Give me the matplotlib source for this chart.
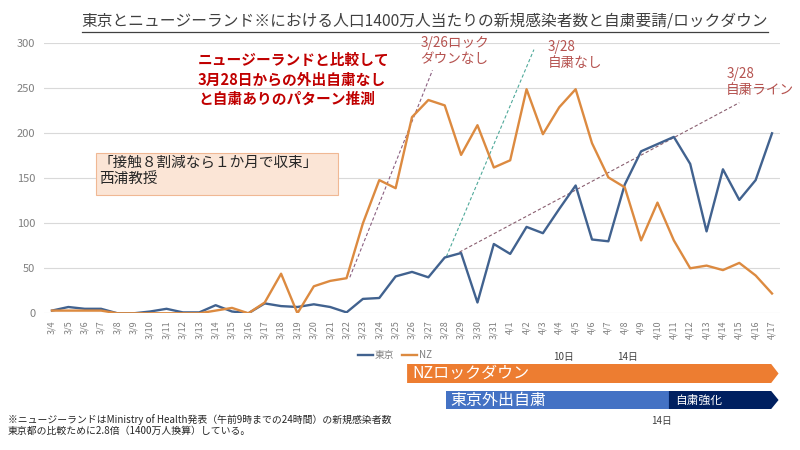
import matplotlib.pyplot as plt
import matplotlib.transforms as mtransforms
from matplotlib.patches import Polygon, Rectangle
from matplotlib.lines import Line2D

plt.rcParams['font.family'] = ['Noto Sans CJK JP', 'DejaVu Sans']

# --- données ---
dates = ["3/4", "3/5", "3/6", "3/7", "3/8", "3/9", "3/10", "3/11", "3/12", "3/13",
         "3/14", "3/15", "3/16", "3/17", "3/18", "3/19", "3/20", "3/21", "3/22", "3/23",
         "3/24", "3/25", "3/26", "3/27", "3/28", "3/29", "3/30", "3/31", "4/1", "4/2",
         "4/3", "4/4", "4/5", "4/6", "4/7", "4/8", "4/9", "4/10", "4/11", "4/12",
         "4/13", "4/14", "4/15", "4/16", "4/17"]
tokyo = [3, 7, 5, 5, 0, 0, 2, 5, 1, 1, 9, 2, 0, 11, 8, 7, 10, 7, 1, 16,
         17, 41, 46, 40, 62, 67, 12, 77, 66, 96, 89, 116, 142, 82, 80, 143, 180, 188, 196, 166,
         91, 160, 126, 148, 200]
nz = [3, 3, 3, 3, 0, 0, 0, 0, 0, 0, 3, 6, 0, 12, 44, 0, 30, 36, 39, 100,
      148, 139, 218, 237, 231, 176, 209, 162, 170, 249, 199, 229, 249, 189, 151, 140, 81, 123, 81, 50,
      53, 48, 56, 42, 22]

# lignes de tendance en pointillés (x = indice du jour, y = valeur)
trend_lockdown_x, trend_lockdown_y = [18.2, 23.25], [40, 270]
trend_nojishuku_x, trend_nojishuku_y = [24.1, 29.45], [63, 293]
trend_jishuku_x, trend_jishuku_y = [24.9, 42.0], [68, 234]

# bandes de périodes (début, fin en indice de jour)
nz_lockdown = (21.7, 44.4)
tokyo_jishuku = (24.1, 37.7)
tokyo_kyoka = (37.7, 44.4)

c_tokyo = "#41628f"
c_nz = "#dc8a40"
c_note = "#b5524f"
c_gray = "#7f7f7f"

W, H = 800, 450
fig = plt.figure(figsize=(8, 4.5), dpi=100)


def fx(x):
    return x / W


def fy(y):
    return 1 - y / H


ax = fig.add_axes([fx(43.8), fy(313.3), fx(780.2 - 43.8), 270 / H])
x = list(range(len(dates)))
ax.plot(x, tokyo, color=c_tokyo, lw=1.7, label="東京", zorder=3)
ax.plot(x, nz, color=c_nz, lw=1.7, label="NZ", zorder=3)

ax.plot(trend_lockdown_x, trend_lockdown_y, color="#8a5f80", lw=0.8, ls=(0, (3, 2)), clip_on=False)
ax.plot(trend_nojishuku_x, trend_nojishuku_y, color="#4fa99a", lw=0.8, ls=(0, (3, 2)), clip_on=False)
ax.plot(trend_jishuku_x, trend_jishuku_y, color="#8a5f70", lw=0.8, ls=(0, (3, 2)), clip_on=False)

ax.set_xlim(-0.5, len(dates) - 0.5)
ax.set_ylim(0, 300)
ax.set_yticks(range(0, 301, 50))
ax.set_xticks(x)
ax.set_xticklabels(dates, rotation=90, fontsize=6.5, color=c_gray)
ax.tick_params(axis="y", labelsize=8, colors=c_gray, length=0, pad=6)
ax.tick_params(axis="x", length=0, pad=5)
ax.grid(axis="y", color="#d9d9d9", lw=0.8)
ax.set_axisbelow(True)
for s in ax.spines.values():
    s.set_visible(False)

# annotations des lignes
ax.text(22.5, 308, "3/26ロック\nダウンなし", color=c_note, fontsize=9.8, va="top", ha="left",
        linespacing=1.2, clip_on=False)
ax.text(30.3, 304, "3/28\n自粛なし", color=c_note, fontsize=9.8, va="top", ha="left",
        linespacing=1.2, clip_on=False)
ax.text(41.2, 274, "3/28\n自粛ライン", color=c_note, fontsize=9.8, va="top", ha="left",
        linespacing=1.2, clip_on=False)

# titre souligné
t = fig.text(fx(425), fy(21), "東京とニュージーランド※における人口1400万人当たりの新規感染者数と自粛要請/ロックダウン",
             ha="center", va="center", fontsize=11.3, color="#404040")
fig.canvas.draw()
bb = t.get_window_extent().transformed(fig.transFigure.inverted())
fig.add_artist(Line2D([bb.x0, bb.x1], [bb.y0 - 0.005, bb.y0 - 0.005], color="#404040", lw=0.9))

# texte rouge
fig.text(fx(198), fy(52), "ニュージーランドと比較して\n3月28日からの外出自粛なし\nと自粛ありのパターン推測",
         color="#c00000", fontsize=10.6, fontweight="bold", va="top", ha="left", linespacing=1.25)

# encadré
fig.add_artist(Rectangle((fx(96), fy(195)), fx(338 - 96), (195 - 153) / H,
                         facecolor="#fbe5d6", edgecolor="#f0b894", lw=0.8, transform=fig.transFigure))
fig.text(fx(99), fy(156), "「接触８割減なら１か月で収束」\n西浦教授", fontsize=10.5, color="#262626",
         va="top", ha="left", linespacing=1.2)

# légende
fig.legend(loc="center", bbox_to_anchor=(fx(395), fy(355)), ncol=2, frameon=False,
           fontsize=7, handlelength=1.5, handletextpad=0.2, columnspacing=0.8, labelcolor=c_gray)

# bandes de périodes
trans = mtransforms.blended_transform_factory(ax.transData, fig.transFigure)
tip = 0.45


def band(x0, x1, ytop, ybot, color, arrow=True):
    yt, yb = fy(ytop), fy(ybot)
    ym = (yt + yb) / 2
    if arrow:
        pts = [(x0, yb), (x1 - tip, yb), (x1, ym), (x1 - tip, yt), (x0, yt)]
    else:
        pts = [(x0, yb), (x1, yb), (x1, yt), (x0, yt)]
    fig.add_artist(Polygon(pts, closed=True, facecolor=color, edgecolor="none", transform=trans))


band(nz_lockdown[0], nz_lockdown[1], 364, 383, "#ed7d31")
band(tokyo_jishuku[0], tokyo_jishuku[1], 391, 409, "#4472c4", arrow=False)
band(tokyo_kyoka[0], tokyo_kyoka[1], 391, 409, "#002060")

fig.text(fx(412), fy(373.5), "NZロックダウン", color="white", fontsize=11.5, va="center", ha="left")
fig.text(fx(450), fy(400), "東京外出自粛", color="white", fontsize=11.5, va="center", ha="left")
fig.text(fx(675), fy(400), "自粛強化", color="white", fontsize=8.5, va="center", ha="left")
fig.text(fx(563), fy(357), "10日", color="#404040", fontsize=7, va="center", ha="center")
fig.text(fx(627), fy(357), "14日", color="#404040", fontsize=7, va="center", ha="center")
fig.text(fx(661), fy(421), "14日", color="#404040", fontsize=7, va="center", ha="center")

# note de bas de page
fig.text(fx(8), fy(425), "※ニュージーランドはMinistry of Health発表（午前9時までの24時間）の新規感染者数\n"
         "東京都の比較ために2.8倍（1400万人換算）している。",
         fontsize=7.1, color="#262626", va="center", ha="left", linespacing=1.2)

fig.savefig("out.png", dpi=100)
